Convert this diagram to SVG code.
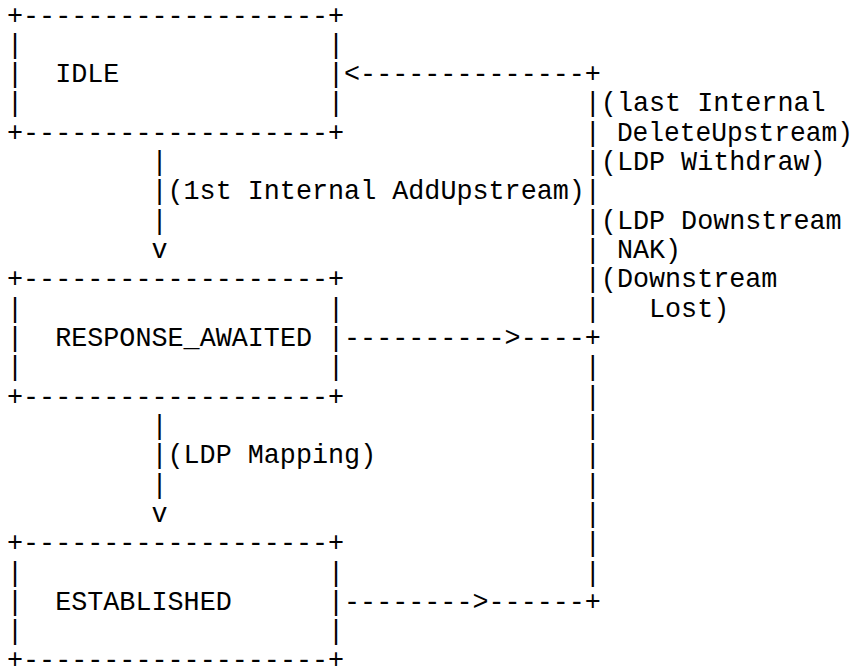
<svg xmlns="http://www.w3.org/2000/svg" width="854" height="666" viewBox="0 0 854 666">
<style>
text{font-family:"Liberation Mono","Courier New",monospace;font-size:26.75px;fill:#000;white-space:pre}
</style>
<rect width="854" height="666" fill="#fff"/>
<g id="node-idle">
<text xml:space="preserve" x="7" y="23.5">+-------------------+</text>
<text xml:space="preserve" x="7" y="52.82">|                   |</text>
<text xml:space="preserve" x="7" y="82.14">|  IDLE             |</text>
<text xml:space="preserve" x="7" y="111.46">|                   |</text>
<text xml:space="preserve" x="7" y="140.78">+-------------------+</text>
</g>
<g id="node-response-awaited">
<text xml:space="preserve" x="7" y="287.38">+-------------------+</text>
<text xml:space="preserve" x="7" y="316.7">|                   |</text>
<text xml:space="preserve" x="7" y="346.02">|  RESPONSE_AWAITED |</text>
<text xml:space="preserve" x="7" y="375.34">|                   |</text>
<text xml:space="preserve" x="7" y="404.66">+-------------------+</text>
</g>
<g id="node-established">
<text xml:space="preserve" x="7" y="551.26">+-------------------+</text>
<text xml:space="preserve" x="7" y="580.58">|                   |</text>
<text xml:space="preserve" x="7" y="609.9">|  ESTABLISHED      |</text>
<text xml:space="preserve" x="7" y="639.22">|                   |</text>
<text xml:space="preserve" x="7" y="667.5">+-------------------+</text>
</g>
<g id="connectors">
<text xml:space="preserve" x="151.45" y="170.1">|</text>
<text xml:space="preserve" x="151.45" y="199.42">|</text>
<text xml:space="preserve" x="151.45" y="228.74">|</text>
<text xml:space="preserve" x="151.45" y="258.06">v</text>
<text xml:space="preserve" x="151.45" y="433.98">|</text>
<text xml:space="preserve" x="151.45" y="463.3">|</text>
<text xml:space="preserve" x="151.45" y="492.62">|</text>
<text xml:space="preserve" x="151.45" y="521.94">v</text>
<text xml:space="preserve" x="344.05" y="82.14">&lt;--------------+</text>
<text xml:space="preserve" x="344.05" y="346.02">---------->----+</text>
<text xml:space="preserve" x="344.05" y="609.9">-------->------+</text>
<text xml:space="preserve" x="584.8" y="111.46">|</text>
<text xml:space="preserve" x="584.8" y="140.78">|</text>
<text xml:space="preserve" x="584.8" y="170.1">|</text>
<text xml:space="preserve" x="584.8" y="199.42">|</text>
<text xml:space="preserve" x="584.8" y="228.74">|</text>
<text xml:space="preserve" x="584.8" y="258.06">|</text>
<text xml:space="preserve" x="584.8" y="287.38">|</text>
<text xml:space="preserve" x="584.8" y="316.7">|</text>
<text xml:space="preserve" x="584.8" y="375.34">|</text>
<text xml:space="preserve" x="584.8" y="404.66">|</text>
<text xml:space="preserve" x="584.8" y="433.98">|</text>
<text xml:space="preserve" x="584.8" y="463.3">|</text>
<text xml:space="preserve" x="584.8" y="492.62">|</text>
<text xml:space="preserve" x="584.8" y="521.94">|</text>
<text xml:space="preserve" x="584.8" y="551.26">|</text>
<text xml:space="preserve" x="584.8" y="580.58">|</text>
</g>
<g id="labels">
<text xml:space="preserve" x="167.5" y="199.42">(1st Internal AddUpstream)</text>
<text xml:space="preserve" x="167.5" y="463.3">(LDP Mapping)</text>
<text xml:space="preserve" x="600.85" y="111.46">(last Internal</text>
<text xml:space="preserve" x="616.9" y="140.78" textLength="236" lengthAdjust="spacingAndGlyphs">DeleteUpstream)</text>
<text xml:space="preserve" x="600.85" y="170.1">(LDP Withdraw)</text>
<text xml:space="preserve" x="600.85" y="228.74">(LDP Downstream</text>
<text xml:space="preserve" x="616.9" y="258.06">NAK)</text>
<text xml:space="preserve" x="600.85" y="287.38">(Downstream</text>
<text xml:space="preserve" x="649" y="316.7">Lost)</text>
</g>
</svg>
